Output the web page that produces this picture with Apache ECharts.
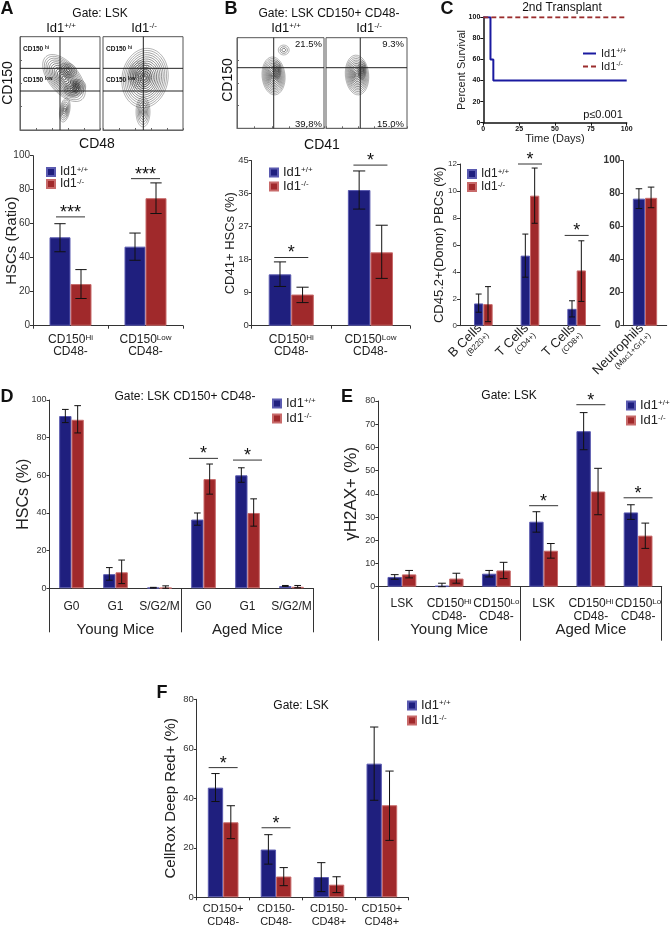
<!DOCTYPE html>
<html>
<head>
    <meta charset="utf-8">
    <title>Id1 HSC figure</title>
    <script src="https://cdn.jsdelivr.net/npm/echarts@6/dist/echarts.min.js"></script>
    <style>
        html, body { margin: 0; padding: 0; background: #fff; }
        #main { width: 671px; height: 928px; }
    </style>
</head>
<body>
<div id="main"></div>
<script>
    var WT = 'Id1+/+', KO = 'Id1-/-';
    var SWT = 'Id1+/+ ', SKO = 'Id1-/- ';

    // panel A
    var aCats = ['CD150^Hi\nCD48-', 'CD150^Low\nCD48-'];
    var aWt = [52, 46.5];
    var aKo = [24.5, 75];
    var aWtErr = [[43.5, 60], [38.5, 54.5]];
    var aKoErr = [[16, 33], [66, 84]];
    var aSig = [[0, 64, '***'], [1, 86.5, '***']];
    var aTicks = [0, 20, 40, 60, 80, 100];

    // panel B
    var bCats = ['CD150^Hi\nCD48-', 'CD150^Low\nCD48-'];
    var bWt = [14, 37];
    var bKo = [8.5, 20];
    var bWtErr = [[10.7, 17.4], [31.8, 42.2]];
    var bKoErr = [[6.3, 10.5], [12.9, 27.4]];
    var bSig = [[0, 18.6, '*'], [1, 43.8, '*']];
    var bTicks = [0, 9, 18, 27, 36, 45];
    var bPct = ['21.5%', '39.8%', '9.3%', '15.0%'];

    // panel C survival
    var survWtX = [0, 5, 7, 100];
    var survWtY = [100, 60, 40, 40];
    var survKoX = [0, 100];
    var survKoY = [100, 100];
    var survXTicks = [0, 25, 50, 75, 100];
    var survYTicks = [0, 20, 40, 60, 80, 100];

    // panel C chimerism
    var cCats = ['B Cells\n(B220+)', 'T Cells\n(CD4+)', 'T Cells\n(CD8+)'];
    var cWt = [1.65, 5.2, 1.25];
    var cKo = [1.6, 9.65, 4.1];
    var cWtErr = [[1.0, 2.35], [3.6, 6.8], [0.65, 1.85]];
    var cKoErr = [[0.3, 2.9], [7.6, 11.7], [1.8, 6.3]];
    var cSig = [[1, 12.0, '*'], [2, 6.7, '*']];
    var cTicks = [0, 2, 4, 6, 8, 10, 12];
    var nCats = ['Neutrophils\n(Mac1+Gr1+)'];
    var nWt = [77];
    var nKo = [77.5];
    var nWtErr = [[71, 83]];
    var nKoErr = [[71.5, 84]];
    var nTicks = [0, 20, 40, 60, 80, 100];

    // panel D
    var dCats = ['G0', 'G1', 'S/G2/M', 'G0', 'G1', 'S/G2/M'];
    var dGroups = ['Young Mice', 'Aged Mice'];
    var dWt = [91.5, 7.5, 0.3, 36.5, 60, 1.2];
    var dKo = [89.5, 8.5, 0.2, 58, 40, 0.8];
    var dWtErr = [[88, 95], [4.3, 11], [0.1, 0.5], [33.5, 40], [56.3, 64], [1.0, 1.5]];
    var dKoErr = [[82.5, 97], [2.5, 15], [0, 1.3], [50, 66], [33, 47.5], [0.3, 1.5]];
    var dSig = [[3, 69, '*'], [4, 68.1, '*']];
    var dTicks = [0, 20, 40, 60, 80, 100];

    // panel E
    var eCats = ['LSK', 'CD150^Hi\nCD48-', 'CD150^Lo\nCD48-', 'LSK', 'CD150^Hi\nCD48-', 'CD150^Lo\nCD48-'];
    var eGroups = ['Young Mice', 'Aged Mice'];
    var eWt = [4.2, 0.4, 5.6, 28, 67, 32];
    var eKo = [5.3, 3.5, 7, 15.5, 41, 22];
    var eWtErr = [[3.2, 5.2], [0, 1.5], [4.2, 7], [23.5, 32.3], [59, 75], [29, 35.3]];
    var eKoErr = [[3.8, 7], [1.5, 5.8], [3.5, 10.5], [12.3, 18.6], [31, 51], [16.5, 27.4]];
    var eSig = [[3, 34.9, '*'], [4, 78.4, '*'], [5, 38.3, '*']];
    var eTicks = [0, 10, 20, 30, 40, 50, 60, 70, 80];

    // panel F
    var fCats = ['CD150+\nCD48-', 'CD150-\nCD48-', 'CD150-\nCD48+', 'CD150+\nCD48+'];
    var fWt = [44.3, 19.3, 8.2, 54];
    var fKo = [30.3, 8.4, 5.1, 37.2];
    var fWtErr = [[38.7, 50], [13.4, 25.3], [2.3, 14], [39.2, 68.8]];
    var fKoErr = [[23.7, 37], [4.7, 12], [1.9, 8.3], [23, 51]];
    var fSig = [[0, 52.4, '*'], [1, 28.1, '*']];
    var fTicks = [0, 20, 40, 60, 80];

    // flow contour blobs: [cx, cy, rx, ry, angle, rings] in plot units (0-100)
    var aLeftBlobs = [[55, 55.7, 35, 16, -50, 13], [60, 64, 11, 7.5, -20, 5], [68.75, 45, 10, 11.8, -70, 7],
        [70, 46, 5, 6, 0, 4], [56, 21.4, 6.25, 13, -10, 6]];
    var aRightBlobs = [[52.5, 55.7, 28.75, 32, -10, 14], [46, 59, 13.75, 15, 0, 7], [50, 19.3, 8.75, 16, 0, 6]];
    var bLeftBlobs = [[42, 57.8, 13.2, 21, 5, 12], [46, 64.4, 4.6, 10, 0, 5], [53.7, 86.4, 6.3, 5.5, 0, 3]];
    var bRightBlobs = [[38.3, 58.8, 14.4, 22, 5, 12], [44.4, 64.4, 5, 10, 0, 5]];
    var aLeftQx = [50], aLeftQy = [66.1, 41.8];
    var aRightQx = [50.4], aRightQy = [66.1, 41.8];
    var bLeftQx = [42.2], bLeftQy = [66.9];
    var bRightQx = [42.3], bRightQy = [66.9];

    var FONT = 'Liberation Sans, Arial, Helvetica, sans-serif';
    var blue = '#1f1f7e', blueEdge = '#5a5ab0';
    var red = '#a0292b', redEdge = '#c86a6a';

    var grids = [], xAxes = [], yAxes = [], series = [], legends = [], graphics = [];

    function ticksOf(t) {
        return {min: t[0], max: t[t.length - 1], interval: t[1] - t[0]};
    }

    function richStyles(size, lh) {
        return {
            a: {fontSize: size, lineHeight: lh, color: '#222', fontFamily: FONT},
            s: {fontSize: 8, lineHeight: 8, verticalAlign: 'top', color: '#222', fontFamily: FONT},
            m: {fontSize: 8, lineHeight: 10, color: '#222', fontFamily: FONT}
        };
    }

    function richLabel(v) {
        return v.split('\n').map(function (line) {
            if (line.charAt(0) === '(') return '{m|' + line + '}';
            var parts = line.split('^');
            return '{a|' + parts[0] + '}' + (parts[1] ? '{s|' + parts[1] + '}' : '');
        }).join('\n');
    }

    function legendText(name) {
        return '{a|Id1}{s|' + (name.indexOf('+') >= 0 ? '+/+' : '-/-') + '}';
    }

    function errorBars(gap, side) {
        return function (params, api) {
            var band = api.size([1, 0])[0];
            var bw = band * (1 - gap) / 2;
            var x = api.coord([api.value(0), 0])[0] + side * bw / 2;
            var lo = api.coord([api.value(0), api.value(1)])[1];
            var hi = api.coord([api.value(0), api.value(2)])[1];
            var cap = Math.max(3, bw * 0.27);
            var st = {stroke: '#111', lineWidth: 1};
            return {
                type: 'group', children: [
                    {type: 'line', shape: {x1: x, y1: lo, x2: x, y2: hi}, style: st},
                    {type: 'line', shape: {x1: x - cap, y1: lo, x2: x + cap, y2: lo}, style: st},
                    {type: 'line', shape: {x1: x - cap, y1: hi, x2: x + cap, y2: hi}, style: st}
                ]
            };
        };
    }

    function sigMarks(sig, half) {
        return function (params, api) {
            var c = api.coord([api.value(0), api.value(1)]);
            return {
                type: 'group', children: [
                    {type: 'line', shape: {x1: c[0] - half, y1: c[1], x2: c[0] + half, y2: c[1]},
                        style: {stroke: '#333', lineWidth: 1}},
                    {type: 'text', x: c[0], y: c[1] - 4, style: {text: sig[params.dataIndex][2], fontSize: 18,
                            fontFamily: FONT, fill: '#111', align: 'center', verticalAlign: 'middle'}}
                ]
            };
        };
    }

    function blobRender(params, api) {
        var c = api.coord([api.value(0), api.value(1)]);
        var s = api.size([api.value(2), api.value(3)]);
        var n = api.value(5);
        var kids = [];
        for (var k = 1; k <= n; k++) {
            var f = k / n;
            kids.push({type: 'ellipse', shape: {cx: 0, cy: 0, rx: s[0] * f, ry: s[1] * f},
                style: {fill: 'none', stroke: '#222', lineWidth: 0.8, opacity: 0.4 + 0.5 * (1 - f)}});
        }
        return {type: 'group', x: c[0], y: c[1], rotation: api.value(4) * Math.PI / 180, children: kids};
    }

    function quadRender(params, api) {
        var a = api.coord([api.value(0), api.value(1)]);
        var b = api.coord([api.value(2), api.value(3)]);
        return {type: 'line', shape: {x1: a[0], y1: a[1], x2: b[0], y2: b[1]}, style: {stroke: '#222', lineWidth: 1}};
    }

    function flowPanel(box, blobs, qx, qy, withY, bottomOff, leftOff) {
        var gi = grids.length;
        grids.push({left: box[0], top: box[1], width: box[2], height: box[3], show: true,
            borderColor: '#555', borderWidth: 1, backgroundColor: 'transparent', outerBoundsMode: 'none'});
        var xi = xAxes.length, yi = yAxes.length;
        xAxes.push({type: 'value', gridIndex: gi, min: 0, max: 100, interval: 20, position: 'bottom', offset: bottomOff,
            axisLine: {show: true, lineStyle: {color: '#666'}}, axisTick: {show: true, inside: true, length: 2},
            axisLabel: {show: false}, splitLine: {show: false}});
        yAxes.push({type: 'value', gridIndex: gi, min: 0, max: 100, interval: 25, offset: leftOff, show: withY,
            axisLine: {show: true, lineStyle: {color: '#666'}}, axisTick: {show: true, inside: true, length: 2},
            axisLabel: {show: false}, splitLine: {show: false}});
        series.push({type: 'custom', xAxisIndex: xi, yAxisIndex: yi, data: blobs, encode: {x: 0, y: 1},
            renderItem: blobRender, clip: true, silent: true, z: 3});
        var lines = qx.map(function (v) { return [v, 0, v, 100]; })
            .concat(qy.map(function (v) { return [0, v, 100, v]; }));
        series.push({type: 'custom', xAxisIndex: xi, yAxisIndex: yi, data: lines, encode: {x: [0, 2], y: [1, 3]},
            renderItem: quadRender, silent: true, z: 4});
    }

    function barPanel(p) {
        var gi = grids.length;
        grids.push({left: p.box[0], top: p.box[1], width: p.box[2], height: p.box[3], outerBoundsMode: 'none'});
        var xi = xAxes.length;
        xAxes.push({
            type: 'category', gridIndex: gi, data: p.cats, position: 'bottom',
            axisLine: {lineStyle: {color: '#333', width: 1}},
            axisTick: {show: !!p.xTick, length: 3, lineStyle: {color: '#333'}},
            axisLabel: {interval: 0, margin: p.labelMargin, rotate: p.rotate || 0, formatter: richLabel,
                rich: richStyles(p.labelSize, p.labelLh)}
        });
        if (p.groups) {
            xAxes.push({
                type: 'category', gridIndex: gi, data: p.groups, position: 'bottom',
                axisLine: {show: false},
                axisTick: {show: true, length: p.groupTick, lineStyle: {color: '#333'}},
                axisLabel: {margin: p.groupMargin, fontSize: 15, color: '#222', fontFamily: FONT}
            });
        }
        var yi = yAxes.length;
        var t = ticksOf(p.ticks);
        yAxes.push({
            type: 'value', gridIndex: gi, min: t.min, max: t.max, interval: t.interval,
            name: p.yName || '', nameLocation: 'middle', nameRotate: 90, nameGap: p.nameGap || 0,
            nameMoveOverlap: false,
            nameTextStyle: {fontSize: p.nameSize || 12, color: '#222', fontFamily: FONT},
            axisLine: {show: true, lineStyle: {color: '#333'}},
            axisTick: {show: true, length: 3, lineStyle: {color: '#333'}},
            splitLine: {show: false},
            axisLabel: {fontSize: p.tickSize, color: '#333', margin: 3, fontFamily: FONT,
                fontWeight: p.boldTicks ? 'bold' : 'normal'}
        });
        var pairs = [[WT, p.wt, p.wtErr, blue, blueEdge, -1], [KO, p.ko, p.koErr, red, redEdge, 1]];
        pairs.forEach(function (s) {
            series.push({type: 'bar', name: s[0], xAxisIndex: xi, yAxisIndex: yi, data: s[1], barGap: '0%',
                barCategoryGap: (p.gap * 100) + '%', silent: true,
                itemStyle: {color: s[3], borderColor: s[4], borderWidth: 1}});
        });
        pairs.forEach(function (s) {
            series.push({type: 'custom', xAxisIndex: xi, yAxisIndex: yi,
                data: s[2].map(function (e, i) { return [i, e[0], e[1]]; }),
                encode: {x: 0, y: [1, 2]}, renderItem: errorBars(p.gap, s[5]), z: 5, silent: true});
        });
        if (p.sig) {
            series.push({type: 'custom', xAxisIndex: xi, yAxisIndex: yi,
                data: p.sig.map(function (s) { return [s[0], s[1]]; }),
                encode: {x: 0, y: 1}, renderItem: sigMarks(p.sig, p.sigHalf), z: 6, silent: true});
        }
        if (p.leg) {
            legends.push({left: p.leg[0], top: p.leg[1], orient: 'vertical', icon: 'rect', padding: 0,
                itemWidth: 8, itemHeight: 8, itemGap: p.leg[2], data: [WT, KO], selectedMode: false,
                formatter: legendText,
                textStyle: {fontSize: p.leg[3], color: '#222', fontFamily: FONT, rich: {
                    a: {fontSize: p.leg[3], fontFamily: FONT, color: '#222'},
                    s: {fontSize: 8, verticalAlign: 'top', lineHeight: 8, fontFamily: FONT, color: '#222'}
                }}});
        }
    }

    function txt(x, y, text, size, o) {
        o = o || {};
        graphics.push({type: 'text', x: x, y: y, rotation: o.rot || 0, silent: true, z: 10, style: {
            text: text, fontSize: size, fontFamily: FONT, fontWeight: o.bold ? 'bold' : 'normal', fill: '#111',
            align: o.align || 'center', verticalAlign: 'middle', rich: o.rich}});
    }

    function supRich(size, sup) {
        return {
            a: {fontSize: size, fontFamily: FONT, fill: '#111'},
            s: {fontSize: sup, fontFamily: FONT, fill: '#111', verticalAlign: 'top', lineHeight: sup}
        };
    }

    // A flow plots
    flowPanel([20, 36.7, 80, 93.3], aLeftBlobs, aLeftQx, aLeftQy, true, 7, 4);
    flowPanel([103, 36.7, 80, 93.3], aRightBlobs, aRightQx, aRightQy, false, 7, 4);
    // B flow plots
    flowPanel([237, 37.7, 87, 90.6], bLeftBlobs, bLeftQx, bLeftQy, true, 9, 2.5);
    flowPanel([326, 37.7, 81, 90.6], bRightBlobs, bRightQx, bRightQy, false, 9, 2.5);

    barPanel({box: [33, 155.7, 150, 170], cats: aCats, wt: aWt, ko: aKo, wtErr: aWtErr, koErr: aKoErr,
        sig: aSig, sigHalf: 14.5, ticks: aTicks, gap: 0.44, tickSize: 10, labelSize: 12, labelLh: 12,
        labelMargin: 8, xTick: true, yName: 'HSCs (Ratio)', nameSize: 15, nameGap: 14, leg: [46, 166, 0, 12]});
    barPanel({box: [251.7, 160.7, 158.3, 165], cats: bCats, wt: bWt, ko: bKo, wtErr: bWtErr, koErr: bKoErr,
        sig: bSig, sigHalf: 17, ticks: bTicks, gap: 0.43, tickSize: 9.5, labelSize: 12, labelLh: 12,
        labelMargin: 8, xTick: true, yName: 'CD41+ HSCs (%)', nameSize: 13, nameGap: 15, leg: [269, 166, 1, 13]});

    // C survival
    (function () {
        var gi = grids.length;
        grids.push({left: 483.3, top: 17.3, width: 143.4, height: 105.4, outerBoundsMode: 'none'});
        var tx = ticksOf(survXTicks), ty = ticksOf(survYTicks);
        var xi = xAxes.length, yi = yAxes.length;
        xAxes.push({type: 'value', gridIndex: gi, min: tx.min, max: tx.max, interval: tx.interval,
            name: 'Time (Days)', nameLocation: 'middle', nameGap: 11, nameMoveOverlap: false,
            nameTextStyle: {fontSize: 11, color: '#222', fontFamily: FONT},
            axisLine: {lineStyle: {color: '#111', width: 1.5}}, axisTick: {length: 3, lineStyle: {color: '#111'}},
            axisLabel: {fontSize: 7, fontWeight: 'bold', color: '#111', margin: 3, fontFamily: FONT},
            splitLine: {show: false}});
        yAxes.push({type: 'value', gridIndex: gi, min: ty.min, max: ty.max, interval: ty.interval,
            name: 'Percent Survival', nameLocation: 'middle', nameRotate: 90, nameGap: 16, nameMoveOverlap: false,
            nameTextStyle: {fontSize: 11, color: '#222', fontFamily: FONT},
            axisLine: {show: true, lineStyle: {color: '#111', width: 1.5}}, axisTick: {show: true, length: 3, lineStyle: {color: '#111'}},
            axisLabel: {fontSize: 7, fontWeight: 'bold', color: '#111', margin: 3, fontFamily: FONT},
            splitLine: {show: false}});
        series.push({type: 'line', name: SWT, xAxisIndex: xi, yAxisIndex: yi, step: 'end', symbol: 'none',
            data: survWtX.map(function (x, i) { return [x, survWtY[i]]; }), silent: true, z: 3,
            lineStyle: {color: '#1a1aa0', width: 2}, itemStyle: {color: '#1a1aa0'}});
        series.push({type: 'line', name: SKO, xAxisIndex: xi, yAxisIndex: yi, symbol: 'none',
            data: survKoX.map(function (x, i) { return [x, survKoY[i]]; }), silent: true, z: 4,
            lineStyle: {color: '#9b2d2d', width: 2, type: [5, 3]}, itemStyle: {color: '#9b2d2d'}});
        legends.push({left: 582, top: 48, orient: 'vertical', padding: 0, itemWidth: 13, itemHeight: 8, itemGap: 2,
            data: [SWT, SKO], selectedMode: false, formatter: legendText,
            itemStyle: {color: 'transparent', borderColor: 'transparent', borderWidth: 0},
            textStyle: {fontSize: 11, color: '#222', fontFamily: FONT, rich: {
                a: {fontSize: 11, fontFamily: FONT, color: '#222'},
                s: {fontSize: 7, verticalAlign: 'top', lineHeight: 7, fontFamily: FONT, color: '#222'}
            }}});
    })();

    barPanel({box: [460, 164, 140, 161.7], cats: cCats, wt: cWt, ko: cKo, wtErr: cWtErr, koErr: cKoErr,
        sig: cSig, sigHalf: 12, ticks: cTicks, gap: 0.6, tickSize: 8, labelSize: 13, labelLh: 13,
        labelMargin: 4, rotate: 45, xTick: false, yName: 'CD45.2+(Donor) PBCs (%)', nameSize: 13, nameGap: 14,
        leg: [467, 168, 1, 12]});
    barPanel({box: [623.3, 160.7, 43.4, 165], cats: nCats, wt: nWt, ko: nKo, wtErr: nWtErr, koErr: nKoErr,
        ticks: nTicks, gap: 0.44, tickSize: 10, boldTicks: true, labelSize: 13, labelLh: 13,
        labelMargin: 4, rotate: 45, xTick: false});

    barPanel({box: [49.5, 400, 264, 188.3], cats: dCats, groups: dGroups, groupTick: 44, groupMargin: 34,
        wt: dWt, ko: dKo, wtErr: dWtErr, koErr: dKoErr, sig: dSig, sigHalf: 14.5, ticks: dTicks, gap: 0.44,
        tickSize: 9, labelSize: 12, labelLh: 14, labelMargin: 11, xTick: false,
        yName: 'HSCs (%)', nameSize: 16, nameGap: 18, leg: [272, 397, 2, 13]});
    barPanel({box: [378.3, 401, 283.4, 185.7], cats: eCats, groups: eGroups, groupTick: 54, groupMargin: 36,
        wt: eWt, ko: eKo, wtErr: eWtErr, koErr: eKoErr, sig: eSig, sigHalf: 14.5, ticks: eTicks, gap: 0.39,
        tickSize: 9, labelSize: 12, labelLh: 12.7, labelMargin: 11, xTick: false,
        yName: '\u03b3H2AX+ (%)', nameSize: 17, nameGap: 18, leg: [626, 399, 2, 13]});
    barPanel({box: [196.7, 699.3, 211.6, 198], cats: fCats, wt: fWt, ko: fKo, wtErr: fWtErr, koErr: fKoErr,
        sig: fSig, sigHalf: 14.5, ticks: fTicks, gap: 0.42, tickSize: 9.5, labelSize: 11, labelLh: 13,
        labelMargin: 5, xTick: true, yName: 'CellRox Deep Red+ (%)', nameSize: 15, nameGap: 18,
        leg: [407, 699, 2, 13]});

    // panel letters and free text
    txt(7, 9, 'A', 18, {bold: true});
    txt(231, 9, 'B', 18, {bold: true});
    txt(447, 9, 'C', 18, {bold: true});
    txt(7, 397, 'D', 18, {bold: true});
    txt(347, 397, 'E', 18, {bold: true});
    txt(162, 693, 'F', 18, {bold: true});

    txt(100, 14, 'Gate: LSK', 12);
    txt(329, 14, 'Gate: LSK CD150+ CD48-', 12);
    txt(185, 397, 'Gate: LSK CD150+ CD48-', 12);
    txt(509, 396, 'Gate: LSK', 12);
    txt(301, 706, 'Gate: LSK', 12);
    txt(562, 8, '2nd Transplant', 12);
    txt(603, 115, 'p\u22640.001', 11);

    txt(61, 28, '{a|Id1}{s|+/+}', 13, {rich: supRich(13, 8)});
    txt(144, 28, '{a|Id1}{s|-/-}', 13, {rich: supRich(13, 8)});
    txt(286, 28, '{a|Id1}{s|+/+}', 13, {rich: supRich(13, 8)});
    txt(369, 28, '{a|Id1}{s|-/-}', 13, {rich: supRich(13, 8)});
    txt(8, 83, 'CD150', 14, {rot: Math.PI / 2});
    txt(228, 80, 'CD150', 14, {rot: Math.PI / 2});
    txt(97, 144, 'CD48', 14);
    txt(322, 145, 'CD41', 14);

    [[23, 49, 'hi'], [23, 80, 'low'], [106, 49, 'hi'], [106, 80, 'low']].forEach(function (l) {
        txt(l[0], l[1], '{a|CD150 }{s|' + l[2] + '}', 6.5, {align: 'left', bold: true, rich: {
            a: {fontSize: 6.5, fontWeight: 'bold', fontFamily: FONT, fill: '#111'},
            s: {fontSize: 4.5, fontWeight: 'bold', fontFamily: FONT, fill: '#111', verticalAlign: 'top', lineHeight: 5}
        }});
    });
    txt(322, 44, bPct[0], 9.5, {align: 'right'});
    txt(322, 124, bPct[1], 9.5, {align: 'right'});
    txt(404, 44, bPct[2], 9.5, {align: 'right'});
    txt(404, 124, bPct[3], 9.5, {align: 'right'});

    var chart = echarts.init(document.getElementById('main'));
    chart.setOption({
        animation: false,
        backgroundColor: '#fff',
        textStyle: {fontFamily: FONT},
        grid: grids,
        xAxis: xAxes,
        yAxis: yAxes,
        legend: legends,
        series: series,
        graphic: graphics
    });
</script>
</body>
</html>
